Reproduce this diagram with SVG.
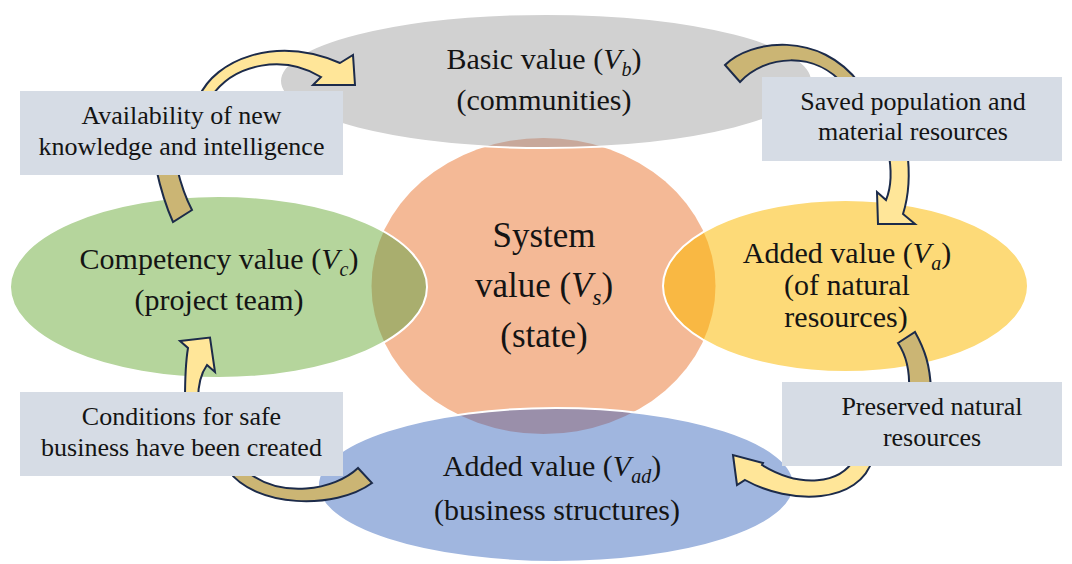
<svg xmlns="http://www.w3.org/2000/svg" width="1072" height="564" viewBox="0 0 1072 564">
<defs>
  <clipPath id="cGray"><ellipse cx="546" cy="81" rx="266" ry="67"/></clipPath>
  <clipPath id="cGreen"><ellipse cx="218.5" cy="287" rx="208.5" ry="91"/></clipPath>
  <clipPath id="cYellow"><ellipse cx="845.5" cy="286" rx="182.5" ry="86"/></clipPath>
  <clipPath id="cBlue"><ellipse cx="556" cy="485" rx="238" ry="77"/></clipPath>
</defs>
<rect width="1072" height="564" fill="#ffffff"/>

<g id="node-system">
  <ellipse cx="543.5" cy="286" rx="172" ry="148" fill="#F4B996"/>
  <text x="544" y="247" font-size="35" text-anchor="middle" fill="#141414" font-family="'Liberation Serif'">System</text>
  <text x="544" y="297" font-size="35" text-anchor="middle" fill="#141414" font-family="'Liberation Serif'">value (<tspan font-style="italic">V</tspan><tspan font-style="italic" font-size="23" dy="8">s</tspan><tspan dy="-8">)</tspan></text>
  <text x="544" y="347" font-size="35" text-anchor="middle" fill="#141414" font-family="'Liberation Serif'">(state)</text>
</g>

<g id="node-basic">
  <ellipse cx="546" cy="81" rx="266" ry="67" fill="#D1D1D1"/>
  <ellipse cx="543.5" cy="286" rx="172" ry="148" fill="#C8A89B" clip-path="url(#cGray)"/>
  <ellipse cx="546" cy="81" rx="266" ry="67" fill="none" stroke="#ffffff" stroke-width="2"/>
  <text x="544" y="69" font-size="30" text-anchor="middle" fill="#141414" font-family="'Liberation Serif'">Basic value (<tspan font-style="italic">V</tspan><tspan font-style="italic" font-size="20" dy="7">b</tspan><tspan dy="-7">)</tspan></text>
  <text x="544" y="110" font-size="30" text-anchor="middle" fill="#141414" font-family="'Liberation Serif'">(communities)</text>
</g>

<g id="node-competency">
  <ellipse cx="218.5" cy="287" rx="208.5" ry="91" fill="#B5D59C"/>
  <ellipse cx="543.5" cy="286" rx="172" ry="148" fill="#A9AE6E" clip-path="url(#cGreen)"/>
  <ellipse cx="218.5" cy="287" rx="208.5" ry="91" fill="none" stroke="#ffffff" stroke-width="2"/>
  <text x="219" y="269" font-size="30" text-anchor="middle" fill="#141414" font-family="'Liberation Serif'">Competency value (<tspan font-style="italic">V</tspan><tspan font-style="italic" font-size="20" dy="7">c</tspan><tspan dy="-7">)</tspan></text>
  <text x="219" y="310" font-size="30" text-anchor="middle" fill="#141414" font-family="'Liberation Serif'">(project team)</text>
</g>

<g id="node-added-natural">
  <ellipse cx="845.5" cy="286" rx="182.5" ry="86" fill="#FDDA78"/>
  <ellipse cx="543.5" cy="286" rx="172" ry="148" fill="#F9B843" clip-path="url(#cYellow)"/>
  <ellipse cx="845.5" cy="286" rx="182.5" ry="86" fill="none" stroke="#ffffff" stroke-width="2"/>
  <text x="847" y="263" font-size="30" text-anchor="middle" fill="#141414" font-family="'Liberation Serif'">Added value (<tspan font-style="italic">V</tspan><tspan font-style="italic" font-size="20" dy="7">a</tspan><tspan dy="-7">)</tspan></text>
  <text x="847" y="295" font-size="30" text-anchor="middle" fill="#141414" font-family="'Liberation Serif'">(of natural</text>
  <text x="846" y="327" font-size="30" text-anchor="middle" fill="#141414" font-family="'Liberation Serif'">resources)</text>
</g>

<g id="node-added-business">
  <ellipse cx="556" cy="485" rx="238" ry="77" fill="#A0B6DF"/>
  <ellipse cx="543.5" cy="286" rx="172" ry="148" fill="#9A8FAA" clip-path="url(#cBlue)"/>
  <ellipse cx="556" cy="485" rx="238" ry="77" fill="none" stroke="#ffffff" stroke-width="2"/>
  <text x="552" y="476" font-size="30" text-anchor="middle" fill="#141414" font-family="'Liberation Serif'">Added value (<tspan font-style="italic">V</tspan><tspan font-style="italic" font-size="20" dy="7">ad</tspan><tspan dy="-7">)</tspan></text>
  <text x="557" y="520" font-size="30" text-anchor="middle" fill="#141414" font-family="'Liberation Serif'">(business structures)</text>
</g>

<g id="connectors" stroke="#1C2B4A" stroke-width="2" stroke-linejoin="miter">
  <path fill="#CBB574" d="M156,168 Q163,200 173,222 L192,210 Q183,193 177,168 Z"/>
  <path fill="#FFE699" d="M199,97 C215,60 275,35 340,63 L353,55 L355,85 L313,85 L321,77 C285,55 235,62 211,97 Z"/>
  <path fill="#CBB574" d="M725,65 C750,40 820,30 860,84 L845,86 C815,50 765,55 740,82 Z"/>
  <path fill="#FFE699" d="M888,150 C892,170 891,188 886,200 L877,192 L878,224 L915,224 L903,214 C909,195 910,172 907,150 Z"/>
  <path fill="#CBB574" d="M898,343 L915,332 C925,350 930,365 931,390 L909,390 C910,370 906,355 898,343 Z"/>
  <path fill="#FFE699" d="M873,458 C860,505 790,505 745,480 L737,485 L733,455 L763,463 L762,465 C800,488 840,485 855,458 Z"/>
  <path fill="#CBB574" d="M358,468 C335,490 280,500 245,470 L228,470 C255,508 335,510 372,483 Z"/>
  <path fill="#FFE699" d="M185,400 C185,380 186,360 188,348 L180,341 L210,337.5 L215,372 L207,365 C202,372 198,385 198,400 Z"/>
</g>

<g id="label-knowledge">
  <rect x="20" y="91" width="323" height="84" fill="#D6DCE5"/>
  <text x="181.5" y="124" font-size="26" text-anchor="middle" fill="#141414" font-family="'Liberation Serif'">Availability of new</text>
  <text x="181.5" y="155" font-size="26" text-anchor="middle" fill="#141414" font-family="'Liberation Serif'">knowledge and intelligence</text>
</g>
<g id="label-saved">
  <rect x="762" y="77" width="300" height="84" fill="#D6DCE5"/>
  <text x="913" y="110" font-size="26" text-anchor="middle" fill="#141414" font-family="'Liberation Serif'">Saved population and</text>
  <text x="913" y="140" font-size="26" text-anchor="middle" fill="#141414" font-family="'Liberation Serif'">material resources</text>
</g>
<g id="label-preserved">
  <rect x="782" y="382" width="280" height="84" fill="#D6DCE5"/>
  <text x="932" y="415" font-size="26" text-anchor="middle" fill="#141414" font-family="'Liberation Serif'">Preserved natural</text>
  <text x="932" y="446" font-size="26" text-anchor="middle" fill="#141414" font-family="'Liberation Serif'">resources</text>
</g>
<g id="label-conditions">
  <rect x="20" y="392" width="323" height="84" fill="#D6DCE5"/>
  <text x="181.5" y="425" font-size="26" text-anchor="middle" fill="#141414" font-family="'Liberation Serif'">Conditions for safe</text>
  <text x="181.5" y="456" font-size="26" text-anchor="middle" fill="#141414" font-family="'Liberation Serif'">business have been created</text>
</g>
</svg>
